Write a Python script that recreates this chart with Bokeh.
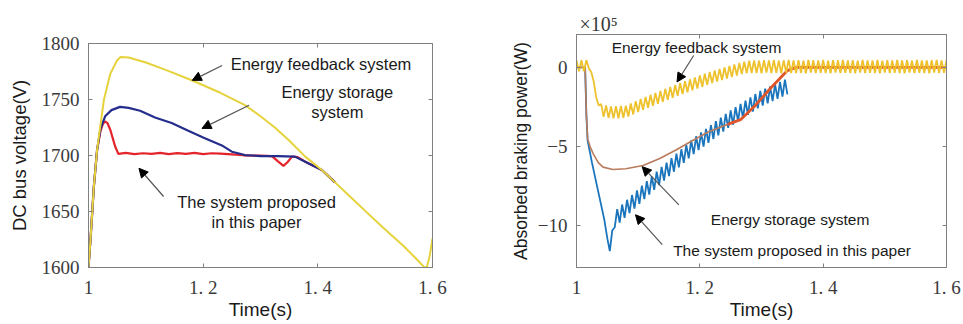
import numpy as np
from jinja2 import Template
from bokeh.plotting import figure
from bokeh.models import FixedTicker, LinearAxis, Label, Arrow, NormalHead, CustomJSTickFormatter
from bokeh.embed import file_html
from bokeh.resources import INLINE

# ---------------- data: DC bus voltage (V) ----------------
fb_volt_t = [1.000, 1.0035, 1.0093, 1.015, 1.021, 1.027, 1.038, 1.050, 1.056, 1.070,
             1.100, 1.137, 1.181, 1.230, 1.273, 1.300, 1.325, 1.349, 1.378, 1.407,
             1.430, 1.457, 1.490, 1.515, 1.550, 1.575, 1.585, 1.590, 1.595, 1.600]
fb_volt_v = [1600, 1625, 1672, 1705, 1728, 1750, 1773, 1785, 1788, 1787.5,
             1783, 1776, 1767, 1756, 1745, 1735, 1725, 1713.8, 1699, 1687,
             1676, 1663, 1647, 1635, 1619, 1606, 1600.5, 1600, 1610, 1626]

es_volt_t = [1.000, 1.0035, 1.0093, 1.015, 1.021, 1.029, 1.040, 1.055, 1.070, 1.090,
             1.116, 1.145, 1.174, 1.200, 1.2326, 1.250, 1.273, 1.300, 1.330, 1.360,
             1.378, 1.407, 1.430]
es_volt_v = [1600, 1625, 1672, 1705, 1724, 1735, 1740.5, 1743.4, 1742.5, 1740,
             1734, 1729, 1722, 1716, 1709, 1703.4, 1700.4, 1699.5, 1699.5, 1699,
             1694.5, 1687, 1676]

pr_volt_t = [1.000, 1.0035, 1.0093, 1.015, 1.021, 1.025, 1.029, 1.033, 1.038, 1.042,
             1.0465, 1.052, 1.065, 1.080, 1.095, 1.110, 1.125, 1.140, 1.155, 1.170,
             1.185, 1.200, 1.215, 1.230, 1.250, 1.270, 1.300, 1.320, 1.330, 1.340,
             1.347, 1.355, 1.365, 1.378, 1.407, 1.430]
pr_volt_v = [1600, 1625, 1672, 1705, 1722, 1728, 1730.5, 1729, 1723, 1716,
             1708, 1701.5, 1702.3, 1701.2, 1702.0, 1701.4, 1702.4, 1701.3, 1702.1, 1701.5,
             1702.3, 1701.2, 1702.0, 1701.6, 1701.0, 1700.2, 1699.8, 1699.5, 1695, 1690.7,
             1694, 1699, 1698.5, 1694.5, 1687, 1676]

# ---------------- data: absorbed braking power (x1e5 W) ----------------
fb_power = [0.45, -0.25, 0.45, -0.25, 0.45, -0.05, -0.3, -0.9, -1.9, -2.4,
            -2.32, -3.12, -2.40, -3.19, -2.47, -3.22, -2.45, -3.21, -2.44, -3.19,
            -2.42, -3.11, -2.28, -2.97, -2.13, -2.82, -1.99, -2.68, -1.86, -2.55,
            -1.73, -2.43, -1.61, -2.30, -1.48, -2.18, -1.35, -2.05, -1.23, -1.92,
            -1.10, -1.80, -0.98, -1.68, -0.87, -1.57, -0.75, -1.45, -0.63, -1.33,
            -0.51, -1.22, -0.40, -1.10, -0.28, -0.99, -0.19, -0.90, -0.09, -0.80,
            0.00, -0.71, 0.10, -0.61, 0.19, -0.52, 0.29, -0.42, 0.37, -0.37,
            0.42, -0.35, 0.45, -0.35, 0.42, -0.37, 0.46, -0.33, 0.44, -0.36,
            0.47, -0.34, 0.43, -0.37, 0.45, -0.33, 0.48, -0.35, 0.44, -0.36,
            0.46, -0.34, 0.43, -0.37, 0.47, -0.33, 0.45, -0.36, 0.44, -0.34,
            0.48, -0.35, 0.43, -0.37, 0.46, -0.33, 0.45, -0.36, 0.47, -0.34,
            0.44, -0.35, 0.46, -0.37, 0.43, -0.33, 0.48, -0.36, 0.45, -0.34,
            0.44, -0.35, 0.47, -0.37, 0.43, -0.33, 0.46, -0.36, 0.45, -0.34,
            0.48, -0.35, 0.44, -0.37, 0.46, -0.33, 0.43, -0.36, 0.47, -0.34,
            0.45, -0.35, 0.44, -0.37, 0.46, -0.33, 0.48, -0.36, 0.45, -0.34,
            0.44]
fb_power_t = np.linspace(1.0, 1.6, len(fb_power))

pr_power_head_t = [1.000, 1.014, 1.016, 1.018, 1.025, 1.035, 1.045, 1.050, 1.054, 1.058]
pr_power_head_v = [0.0, 0.0, -3.0, -4.6, -6.0, -7.8, -9.6, -10.8, -11.6, -10.3]
pr_power_osc = [-10.1, -8.95, -9.80, -8.66, -9.51, -8.36, -9.21, -8.06, -8.92, -7.77,
                -8.62, -7.47, -8.32, -7.18, -8.03, -6.88, -7.73, -6.59, -7.44, -6.29,
                -7.15, -6.01, -6.87, -5.73, -6.59, -5.45, -6.31, -5.17, -6.03, -4.89,
                -5.75, -4.61, -5.47, -4.35, -5.23, -4.11, -5.00, -3.88, -4.76, -3.64,
                -4.52, -3.40, -4.29, -3.17, -4.05, -2.93, -3.82, -2.72, -3.62, -2.51,
                -3.41, -2.30, -3.20, -2.10, -2.99, -1.89, -2.79, -1.68, -2.58, -1.48,
                -2.41, -1.34, -2.27, -1.20, -2.13, -1.06, -1.98, -0.91, -1.84, -0.77,
                -1.70]
pr_power_osc_t = np.linspace(1.062, 1.342, len(pr_power_osc))

es_power_t = [1.000, 1.014, 1.016, 1.018, 1.022, 1.027, 1.035, 1.043, 1.059, 1.080,
              1.108, 1.135, 1.162, 1.189, 1.215, 1.245, 1.266, 1.290, 1.315, 1.342,
              1.356, 1.400, 1.500, 1.600]
es_power_v = [0.0, 0.0, -3.0, -4.5, -5.0, -5.45, -6.0, -6.3, -6.45, -6.4,
              -6.2, -5.75, -5.2, -4.6, -4.05, -3.6, -3.3, -2.4, -1.3, -0.2,
              0.0, 0.0, 0.0, 0.0]

time_ticks = [1.0, 1.2, 1.4, 1.6]
time_labels = {1.0: "1", 1.2: "1. 2", 1.4: "1. 4", 1.6: "1. 6"}
volt_ticks = [1600, 1650, 1700, 1750, 1800]
power_ticks = [-10, -5, 0]
power_scale = "×10⁵"

SERIF = "Liberation Serif"
SANS = "Liberation Sans"
GRAY = "#808080"
TICKCOL = "#3a3a3a"


def box_axis(ticks):
    return LinearAxis(ticker=FixedTicker(ticks=ticks),
                      formatter=CustomJSTickFormatter(code="return ''"),
                      major_label_text_font_size="1px",
                      major_label_standoff=0, major_tick_in=4, major_tick_out=0,
                      minor_tick_line_color=None, axis_line_color=GRAY,
                      major_tick_line_color=GRAY)


def style(p, yticks, xlabel, ylabel, ylabel_size, ylabel_standoff):
    p.grid.visible = False
    p.outline_line_color = GRAY
    p.background_fill_color = "white"
    p.border_fill_color = "white"
    p.xaxis.ticker = FixedTicker(ticks=time_ticks)
    p.xaxis.major_label_overrides = time_labels
    p.yaxis.ticker = FixedTicker(ticks=yticks)
    for ax in (p.xaxis, p.yaxis):
        ax.axis_line_color = GRAY
        ax.major_tick_line_color = GRAY
        ax.major_tick_in = 4
        ax.major_tick_out = 0
        ax.minor_tick_line_color = None
        ax.major_label_text_font = SERIF
        ax.major_label_text_font_size = "19px"
        ax.major_label_text_color = TICKCOL
        ax.axis_label_text_font = SANS
        ax.axis_label_text_font_style = "normal"
        ax.axis_label_text_color = "#1a1a1a"
    p.xaxis.axis_label = xlabel
    p.xaxis.axis_label_text_font_size = "19px"
    p.xaxis.major_label_standoff = 9
    p.xaxis.axis_label_standoff = -2
    p.yaxis.axis_label = ylabel
    p.yaxis.axis_label_text_font_size = ylabel_size
    p.yaxis.major_label_standoff = 9
    p.yaxis.axis_label_standoff = ylabel_standoff
    p.add_layout(box_axis(time_ticks), "above")
    p.add_layout(box_axis(yticks), "right")


def note(p, x, y, text, size, align="center"):
    p.add_layout(Label(x=x, y=y, text=text, text_font=SANS, text_font_size=size,
                       text_color="#1a1a1a", text_align=align, text_baseline="middle"))


def arrow(p, x0, y0, x1, y1):
    p.add_layout(Arrow(end=NormalHead(size=9, fill_color="black", line_color="black"),
                       x_start=x0, y_start=y0, x_end=x1, y_end=y1,
                       line_color="#555555", line_width=1.2))


# ---------------- left figure ----------------
p1 = figure(width=480, height=322, x_range=(1.0, 1.6), y_range=(1600, 1800),
            output_backend="svg", toolbar_location=None,
            min_border_left=88, min_border_right=48, min_border_top=43, min_border_bottom=54)
style(p1, volt_ticks, "Time(s)", "DC bus voltage(V)", "18.5px", 9)

p1.line(pr_volt_t, pr_volt_v, line_color="#e3242b", line_width=2.2)
p1.line(es_volt_t, es_volt_v, line_color="#252d8c", line_width=2.2)
p1.line(fb_volt_t, fb_volt_v, line_color="#e6d33c", line_width=2.0)

note(p1, 1.248, 1782, "Energy feedback system", "16.5px", "left")
note(p1, 1.434, 1756.4, "Energy storage", "16.5px")
note(p1, 1.434, 1738.7, "system", "16.5px")
note(p1, 1.293, 1658.7, "The system proposed", "16.5px")
note(p1, 1.293, 1640.9, "in this paper", "16.5px")
arrow(p1, 1.233, 1780.4, 1.181, 1767.1)
arrow(p1, 1.280, 1744.9, 1.198, 1724.2)
arrow(p1, 1.131, 1663.4, 1.088, 1688.6)

# ---------------- right figure ----------------
p2 = figure(width=482, height=322, x_range=(1.0, 1.6), y_range=(-12.64, 2.08),
            output_backend="svg", toolbar_location=None, title=power_scale,
            min_border_left=96, min_border_right=16, min_border_top=34, min_border_bottom=54)
p2.title.text_font = SERIF
p2.title.text_font_size = "20px"
p2.title.text_font_style = "normal"
p2.title.text_color = TICKCOL
p2.title.align = "left"
p2.title.offset = 3
p2.title.standoff = 0
style(p2, power_ticks, "Time(s)", "Absorbed braking power(W)", "17.5px", 4)

pr_t = list(pr_power_head_t) + list(pr_power_osc_t)
pr_v = list(pr_power_head_v) + list(pr_power_osc)
p2.line(pr_t, pr_v, line_color="#1b75bc", line_width=1.8)
p2.line(es_power_t[:16], es_power_v[:16], line_color="#b97c5c", line_width=1.6)
p2.line(es_power_t[15:], es_power_v[15:], line_color="#e0562a", line_width=2.8)
p2.line(fb_power_t, fb_power, line_color="#eec22c", line_width=1.8)

note(p2, 1.1946, 1.28, "Energy feedback system", "15.5px")
note(p2, 1.3463, -9.62, "Energy storage system", "15.5px")
note(p2, 1.3495, -11.55, "The system proposed in this paper", "15.5px")
arrow(p2, 1.190, 0.75, 1.163, -0.92)
arrow(p2, 1.166, -8.68, 1.1065, -6.27)
arrow(p2, 1.139, -11.2, 1.0957, -9.31)

# two independent roots placed side by side (so their frames are not forced to align)
PAGE = Template("""{% extends base %}
{% block preamble %}<style>body { display: flex !important; flex-direction: row; align-items: flex-start; }</style>{% endblock %}""")
open("out.html", "w").write(file_html([p1, p2], INLINE, template=PAGE))
